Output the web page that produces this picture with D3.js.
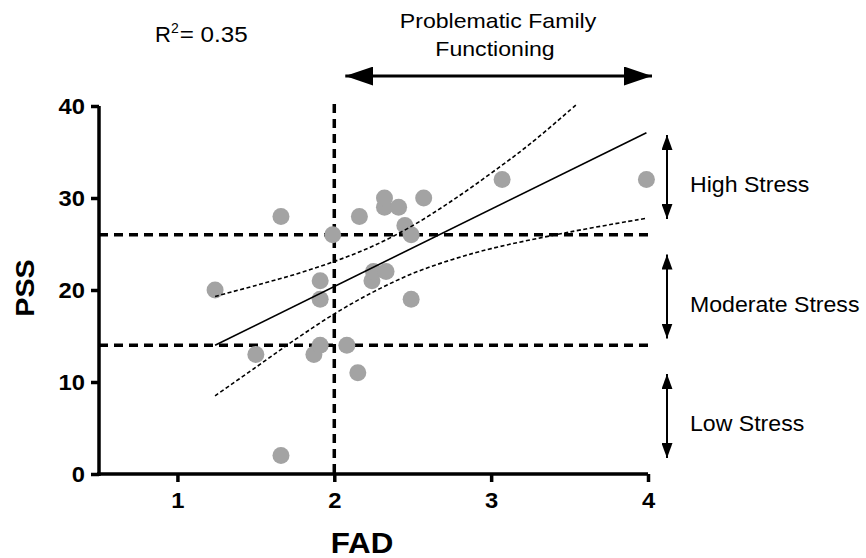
<!DOCTYPE html>
<html>
<head>
<meta charset="utf-8">
<script src="https://cdn.jsdelivr.net/npm/d3@7"></script>
<style>
  body { margin: 0; background: #fff; }
  svg { display: block; font-family: Arial, "Liberation Sans", sans-serif; }
</style>
</head>
<body>
<div id="chart"></div>
<script>
// FAD vs PSS
const fad = [1.24, 1.50, 1.66, 1.66, 1.87, 1.91, 1.91, 1.91, 1.99, 2.08, 2.15, 2.16,
             2.24, 2.25, 2.33, 2.32, 2.32, 2.41, 2.45, 2.49, 2.49, 2.57, 3.07, 3.99];
const pss = [20, 13, 28, 2, 13, 14, 19, 21, 26, 14, 11, 28,
             21, 22, 22, 29, 30, 29, 27, 26, 19, 30, 32, 32];

// regression line and 95% band
const fitX = [1.24, 3.99];
const fitY = [14.0, 37.1];
const upperX = [1.24, 1.50, 1.75, 2.00, 2.25, 2.50, 2.75, 3.00, 3.25, 3.54];
const upperY = [19.3, 20.5, 21.7, 23.1, 24.8, 27.0, 29.7, 32.7, 35.9, 40.1];
const lowerX = [1.24, 1.50, 1.75, 2.00, 2.25, 2.50, 2.75, 3.00, 3.50, 3.99];
const lowerY = [8.5, 11.6, 14.6, 17.4, 19.8, 21.8, 23.3, 24.5, 26.3, 27.8];

// thresholds and labels
const fadCut = 2;
const pssCuts = [14, 26];
const stressLabels = ["High Stress", "Moderate Stress", "Low Stress"];
const stressBands = [[26, 40], [14, 26], [0, 14]];
const xTicks = [1, 2, 3, 4];
const yTicks = [0, 10, 20, 30, 40];
const r2Text = "0.35";

const W = 866, H = 558;
const svg = d3.select("#chart").append("svg")
  .attr("width", W).attr("height", H);

const x = d3.scaleLinear().domain([0.5, 4]).range([99, 648]);
const y = d3.scaleLinear().domain([0, 40]).range([474, 106]);

// the source glyphs look a bit wider than Arial
function widen(sel, k) {
  sel.each(function () {
    const w = this.getComputedTextLength();
    d3.select(this).attr("textLength", w * k).attr("lengthAdjust", "spacingAndGlyphs");
  });
  return sel;
}

// markers for arrows
const defs = svg.append("defs");
function arrowMarker(id, len, wid) {
  defs.append("marker")
    .attr("id", id)
    .attr("viewBox", `0 0 ${len} ${wid}`)
    .attr("refX", len).attr("refY", wid / 2)
    .attr("markerWidth", len).attr("markerHeight", wid)
    .attr("markerUnits", "userSpaceOnUse")
    .attr("orient", "auto-start-reverse")
    .append("path")
    .attr("d", `M0,0L${len},${wid / 2}L0,${wid}Z`)
    .attr("fill", "#000");
}
arrowMarker("bigHead", 28, 19);
arrowMarker("smallHead", 15, 11);

// threshold dashed lines
svg.selectAll(".hcut").data(pssCuts).enter().append("line")
  .attr("class", "hcut")
  .attr("x1", x(0.5)).attr("x2", x(4) + 4)
  .attr("y1", d => y(d)).attr("y2", d => y(d))
  .attr("stroke", "#000").attr("stroke-width", 3.5)
  .attr("stroke-dasharray", "9,6");

svg.append("line")
  .attr("x1", x(fadCut)).attr("x2", x(fadCut))
  .attr("y1", y(40) - 2).attr("y2", y(0))
  .attr("stroke", "#000").attr("stroke-width", 3.5)
  .attr("stroke-dasharray", "9,6");

// points
const pts = fad.map((d, i) => ({ x: d, y: pss[i] }));
svg.selectAll(".dot").data(pts).enter().append("circle")
  .attr("class", "dot")
  .attr("cx", d => x(d.x)).attr("cy", d => y(d.y))
  .attr("r", 8.5)
  .attr("fill", "#a3a3a3");

// fit + confidence band
const line = d3.line().x(d => x(d[0])).y(d => y(d[1]));
const curved = d3.line().x(d => x(d[0])).y(d => y(d[1])).curve(d3.curveCatmullRom);

svg.append("path")
  .attr("d", line(d3.zip(fitX, fitY)))
  .attr("fill", "none").attr("stroke", "#000").attr("stroke-width", 1.6);

[d3.zip(upperX, upperY), d3.zip(lowerX, lowerY)].forEach(band => {
  svg.append("path")
    .attr("d", curved(band))
    .attr("fill", "none").attr("stroke", "#000").attr("stroke-width", 1.6)
    .attr("stroke-dasharray", "4,2.5");
});

// axes
const xAxis = svg.append("g")
  .attr("transform", `translate(0,${y(0)})`)
  .call(d3.axisBottom(x).tickValues(xTicks).tickSize(8).tickPadding(10).tickFormat(d3.format("d")));
const yAxis = svg.append("g")
  .attr("transform", `translate(${x(0.5)},0)`)
  .call(d3.axisLeft(y).tickValues(yTicks).tickSize(8).tickPadding(6));

[xAxis, yAxis].forEach(g => {
  g.select(".domain").attr("stroke-width", 3.5)
    .attr("d", g === xAxis
      ? `M${x(0.5) - 2},0H${x(4)}`
      : `M0,${y(40)}V${y(0) + 2}`);
  g.selectAll(".tick line").attr("stroke-width", 3.5);
  widen(g.selectAll(".tick text")
    .attr("font-family", "Arial, 'Liberation Sans', sans-serif")
    .attr("font-size", 22).attr("font-weight", "bold").attr("fill", "#000"), 1.08);
});

// axis titles
widen(svg.append("text")
  .attr("x", 362).attr("y", 553)
  .attr("text-anchor", "middle")
  .attr("font-size", 29).attr("font-weight", "bold")
  .text("FAD"), 1.08);

widen(svg.append("text")
  .attr("transform", `translate(34,${288}) rotate(-90)`)
  .attr("text-anchor", "middle")
  .attr("font-size", 25).attr("font-weight", "bold")
  .text("PSS"), 1.15);

// R squared
const r2 = svg.append("text")
  .attr("x", 155).attr("y", 42)
  .attr("font-size", 22);
r2.append("tspan").text("R");
r2.append("tspan").attr("font-size", 14).attr("dy", -9).text("2");
widen(r2.append("tspan").attr("dy", 9).attr("dx", 1).text("= " + r2Text), 1.1);

// problematic family functioning
widen(svg.append("text")
  .attr("x", 498).attr("y", 28)
  .attr("text-anchor", "middle").attr("font-size", 21)
  .text("Problematic Family"), 1.1);
widen(svg.append("text")
  .attr("x", 495).attr("y", 56)
  .attr("text-anchor", "middle").attr("font-size", 21)
  .text("Functioning"), 1.1);

svg.append("line")
  .attr("x1", x(fadCut) + 11).attr("x2", x(4) + 4)
  .attr("y1", 76).attr("y2", 76)
  .attr("stroke", "#000").attr("stroke-width", 3)
  .attr("marker-start", "url(#bigHead)")
  .attr("marker-end", "url(#bigHead)");

// stress band arrows + labels
const arrowX = 667;
stressBands.forEach((b, i) => {
  const mid = (y(b[0]) + y(b[1])) / 2 + 6.5;
  svg.append("line")
    .attr("x1", arrowX).attr("x2", arrowX)
    .attr("y1", mid - 42).attr("y2", mid + 42)
    .attr("stroke", "#000").attr("stroke-width", 2)
    .attr("marker-start", "url(#smallHead)")
    .attr("marker-end", "url(#smallHead)");
  widen(svg.append("text")
    .attr("x", 690).attr("y", mid + 15)
    .attr("font-size", 22)
    .text(stressLabels[i]), 1.05);
});
</script>
</body>
</html>
